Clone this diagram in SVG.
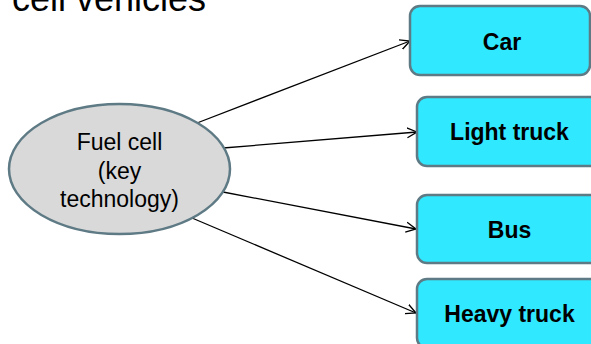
<svg xmlns="http://www.w3.org/2000/svg" width="591" height="344" viewBox="0 0 591 344">
<defs>
<marker id="arr" markerWidth="12" markerHeight="12" refX="10" refY="5" orient="auto" markerUnits="userSpaceOnUse" viewBox="0 0 12 10">
<path d="M0,0 L10,5 L0,10" fill="none" stroke="#000" stroke-width="1.3"/>
</marker>
</defs>
<style>
.title{font-family:"Liberation Sans",Arial,sans-serif;font-size:36px;fill:#000}
.box{fill:#30e8ff;stroke:#5e7a85;stroke-width:2.5}
.btxt{font-family:"Liberation Sans",Arial,sans-serif;font-size:23px;font-weight:bold;fill:#000;text-anchor:middle}
.etxt{font-family:"Liberation Sans",Arial,sans-serif;font-size:23px;fill:#000;text-anchor:middle}
.conn{stroke:#000;stroke-width:1.3;fill:none;marker-end:url(#arr)}
</style>
<rect width="591" height="344" fill="#fff"/>
<text class="title" x="12" y="11">cell vehicles</text>
<g id="connectors">
<line class="conn" x1="197" y1="123" x2="410" y2="41"/>
<line class="conn" x1="223" y1="148" x2="417" y2="132"/>
<line class="conn" x1="223" y1="192" x2="416" y2="229"/>
<line class="conn" x1="192" y1="218" x2="416" y2="313"/>
</g>
<g id="fuelcell">
<ellipse cx="119.5" cy="169" rx="110.5" ry="65" fill="#d9d9d9" stroke="#5e7a85" stroke-width="2.5"/>
<text class="etxt" x="119.5" y="150">Fuel cell</text>
<text class="etxt" x="119.5" y="178.5">(key</text>
<text class="etxt" x="119.5" y="207">technology)</text>
</g>
<g id="car">
<rect class="box" x="410" y="6" width="180" height="69" rx="10"/>
<text class="btxt" x="502" y="49.5">Car</text>
</g>
<g id="lighttruck">
<rect class="box" x="417" y="97" width="185" height="69" rx="10"/>
<text class="btxt" x="509.5" y="140">Light truck</text>
</g>
<g id="bus">
<rect class="box" x="417" y="195" width="185" height="68" rx="10"/>
<text class="btxt" x="509.5" y="238">Bus</text>
</g>
<g id="heavytruck">
<rect class="box" x="417" y="279" width="185" height="69" rx="10"/>
<text class="btxt" x="509.5" y="322">Heavy truck</text>
</g>
</svg>
